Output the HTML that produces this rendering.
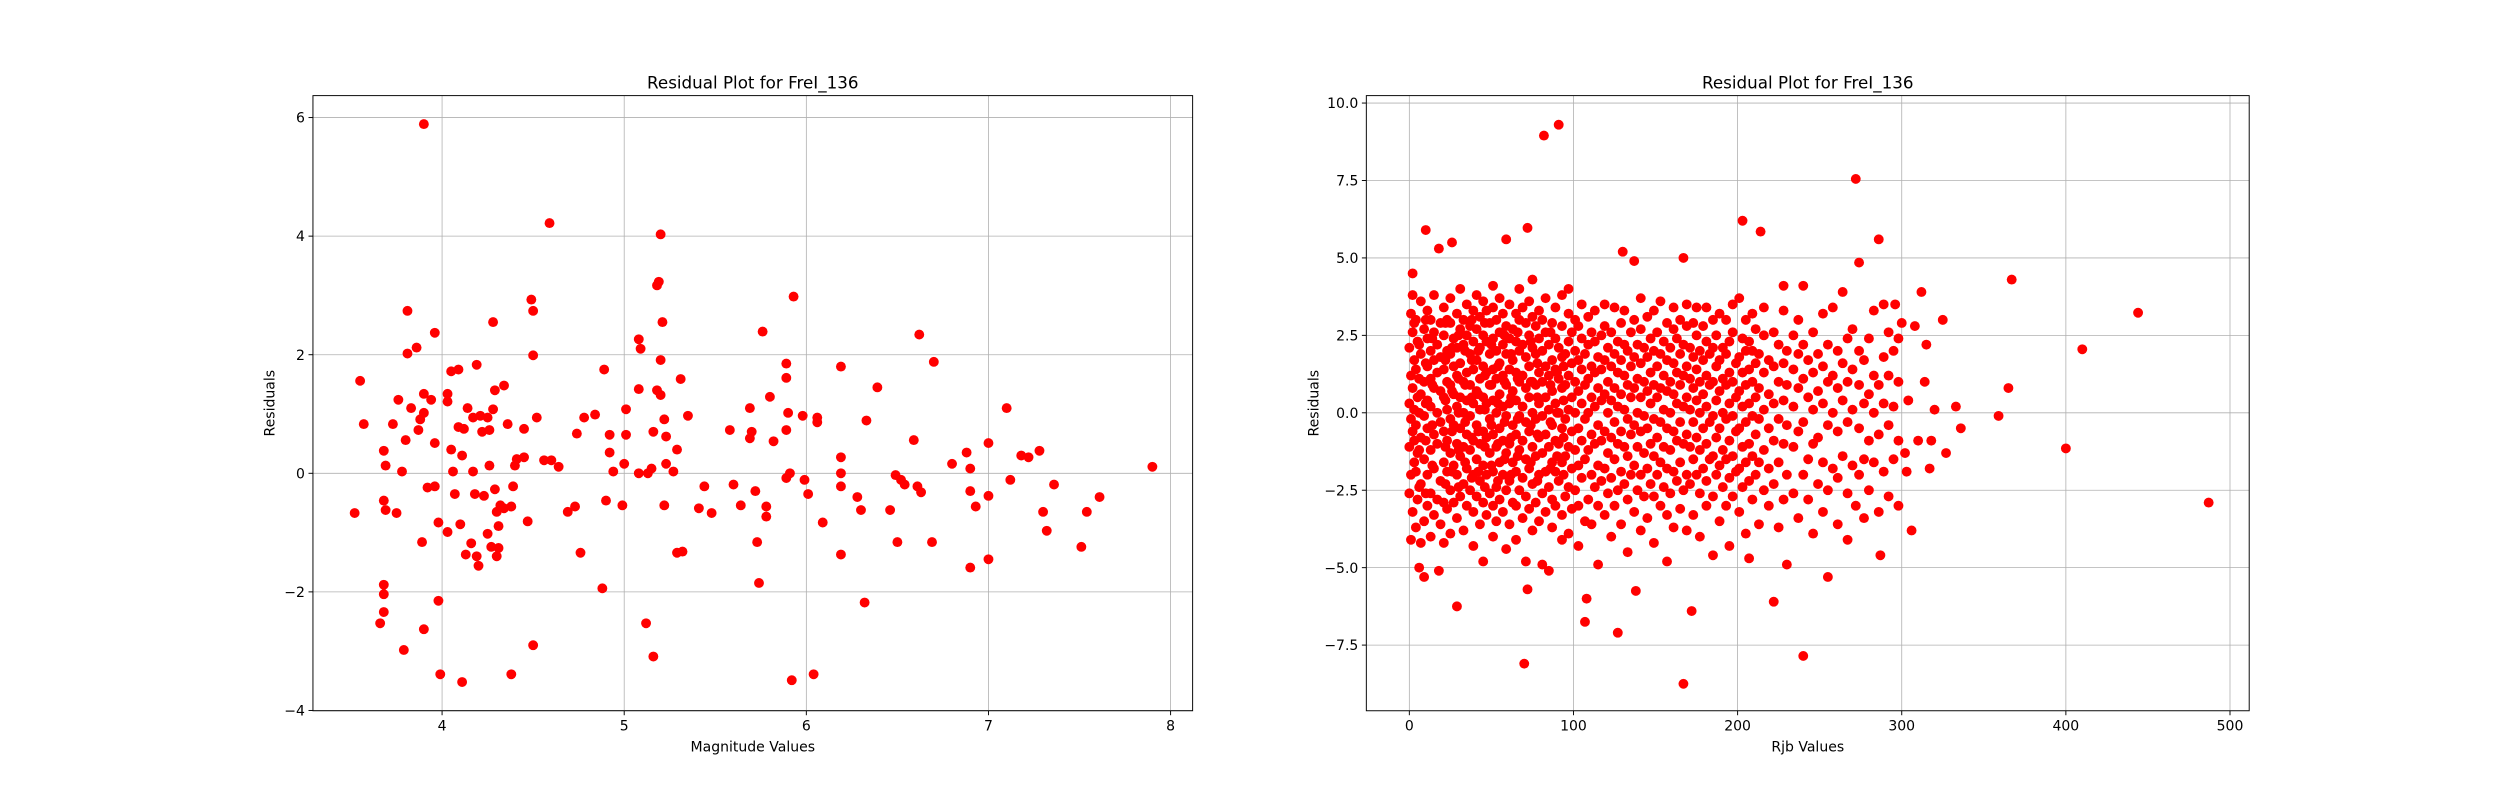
<!DOCTYPE html>
<html><head><meta charset="utf-8"><style>
html,body{margin:0;padding:0;background:#fff}
svg{display:block;font-family:"DejaVu Sans","Liberation Sans",sans-serif}
</style></head><body>
<svg id="fig" width="2500" height="800" viewBox="0 0 1568 502" xmlns="http://www.w3.org/2000/svg">
<rect width="1568" height="502" fill="#fff"/>
</svg>
<script>
const magnitudePoints = [
[3.52,-0.67],[3.55,1.56],[3.57,0.83],[3.66,-2.53],[3.68,-2.34],[3.68,0.38],[3.69,0.13],[3.68,-0.46],[3.69,-0.62],[3.68,-1.88],[3.68,-2.04],[3.73,0.83],[3.75,-0.67],[3.76,1.24],[3.78,0.03],[3.79,-2.98],[3.80,0.56],[3.81,2.02],[3.81,2.74],[3.83,1.10],[3.86,2.12],[3.87,0.73],[3.88,0.91],[3.89,-1.16],[3.90,5.89],[3.90,-2.63],[3.90,1.02],[3.90,1.34],[3.92,-0.24],[3.94,1.24],[3.96,2.37],[3.96,0.51],[3.96,-0.22],[3.98,-2.15],[3.98,-0.83],[3.99,-3.39],[4.03,1.34],[4.03,1.21],[4.03,-0.99],[4.05,0.40],[4.05,1.72],[4.09,1.75],[4.06,0.03],[4.07,-0.35],[4.09,0.78],[4.10,-0.86],[4.11,-3.52],[4.11,0.30],[4.12,0.75],[4.13,-1.37],[4.14,1.10],[4.16,-1.18],[4.17,0.03],[4.17,0.94],[4.18,-0.35],[4.19,-1.40],[4.19,1.83],[4.20,-1.56],[4.21,0.97],[4.22,0.70],[4.23,-0.38],[4.25,0.94],[4.25,-1.02],[4.26,0.13],[4.26,0.73],[4.27,-1.24],[4.28,1.08],[4.29,-0.27],[4.30,-0.65],[4.30,-1.40],[4.29,1.40],[4.28,2.55],[4.31,-1.26],[4.31,-0.89],[4.32,-0.54],[4.34,-0.59],[4.34,1.48],[4.36,0.83],[4.38,-3.39],[4.38,-0.56],[4.39,-0.22],[4.40,0.13],[4.41,0.24],[4.45,0.27],[4.45,0.75],[4.47,-0.81],[4.49,2.93],[4.50,2.74],[4.50,1.99],[4.50,-2.90],[4.52,0.94],[4.56,0.22],[4.59,4.22],[4.60,0.22],[4.64,0.11],[4.69,-0.65],[4.73,-0.56],[4.74,0.67],[4.76,-1.34],[4.78,0.94],[4.84,0.99],[4.88,-1.94],[4.89,1.75],[4.90,-0.46],[4.92,0.35],[4.92,0.65],[4.94,0.03],[4.99,-0.54],[5.00,0.16],[5.01,1.08],[5.01,0.65],[5.08,1.42],[5.08,2.26],[5.08,0.00],[5.09,2.10],[5.12,-2.53],[5.13,0.00],[5.15,0.08],[5.16,-3.09],[5.16,0.70],[5.18,1.40],[5.18,3.17],[5.19,3.23],[5.20,4.03],[5.21,2.55],[5.20,1.91],[5.20,1.32],[5.22,0.91],[5.22,-0.54],[5.23,0.16],[5.23,0.62],[5.27,0.03],[5.29,0.40],[5.29,-1.34],[5.31,1.59],[5.32,-1.32],[5.35,0.97],[5.41,-0.59],[5.44,-0.22],[5.48,-0.67],[5.58,0.73],[5.60,-0.19],[5.64,-0.54],[5.69,1.10],[5.69,0.59],[5.70,0.70],[5.72,-0.30],[5.73,-1.16],[5.74,-1.85],[5.76,2.39],[5.78,-0.56],[5.78,-0.73],[5.80,1.29],[5.82,0.54],[5.89,0.73],[5.89,1.85],[5.89,1.61],[5.90,1.02],[5.91,0.00],[5.89,-0.08],[5.92,-3.49],[5.93,2.98],[5.98,0.97],[5.99,-0.11],[6.01,-0.35],[6.04,-3.39],[6.06,0.94],[6.06,0.86],[6.09,-0.83],[6.19,1.80],[6.19,0.27],[6.19,-0.22],[6.19,-1.37],[6.19,0.00],[6.28,-0.40],[6.30,-0.62],[6.32,-2.18],[6.33,0.89],[6.39,1.45],[6.46,-0.62],[6.49,-0.03],[6.50,-1.16],[6.52,-0.11],[6.54,-0.19],[6.59,0.56],[6.62,2.34],[6.61,-0.22],[6.63,-0.32],[6.69,-1.16],[6.70,1.88],[6.80,0.16],[6.88,0.35],[6.90,-1.59],[6.90,0.08],[6.90,-0.30],[6.93,-0.56],[7.00,-0.38],[7.00,-1.45],[7.00,0.51],[7.10,1.10],[7.12,-0.11],[7.18,0.30],[7.22,0.27],[7.28,0.38],[7.30,-0.65],[7.32,-0.97],[7.36,-0.19],[7.51,-1.24],[7.54,-0.65],[7.61,-0.40],[7.90,0.11]
];
const magnitudeXTicks = [4,5,6,7,8];
const magnitudeYTicks = [-4,-2,0,2,4,6];

const rjbPoints = [
[1,-4.1],[2,-3.2],[0,-2.6],[1,-2.0],[3,-1.6],[0,-1.1],[2,-0.6],[1,-0.2],[0,0.3],[2,0.8],[1,1.2],[3,1.7],[0,2.1],[2,2.6],[1,3.2],[2,3.8],[2,4.5],[4,-3.7],[5,-2.8],[4,-1.9],[5,-1.3],[4,-0.4],[5,0.5],[4,1.4],[5,2.3],[4,3.0],[3,-0.9],[3,0.1],[3,2.9],[6,-5.0],[9,-5.3],[18,-5.1],
[7,-4.2],[7,-2.3],[7,-0.8],[7,0.6],[7,1.9],[7,3.6],[9,-3.5],[9,-1.5],[9,-0.1],[9,1.0],[9,2.7],[10,5.9],[11,-3.0],[11,-2.0],[11,-0.5],[11,0.4],[11,1.5],[11,2.4],[11,3.3],[13,-4.0],[13,-2.6],[13,-1.2],[13,0.2],[13,1.1],[13,2.0],[13,3.0],[15,-3.3],[15,-1.8],[15,-0.7],[15,0.8],[15,1.7],[15,2.6],[15,3.8],[17,-2.8],[17,-1.0],[17,0.0],[17,1.3],[17,2.2],[19,-3.6],[19,-2.2],[19,-0.3],[19,0.7],[19,1.8],[19,2.9],[18,5.3],[26,5.5],
[21,-4.2],[21,-2.9],[21,-1.6],[21,-0.6],[21,0.5],[21,1.4],[21,2.5],[21,3.4],[23,-3.1],[23,-1.9],[23,-0.9],[23,0.1],[23,1.0],[23,2.0],[23,3.0],[25,-3.9],[25,-2.5],[25,-1.3],[25,-0.2],[25,0.9],[25,1.9],[25,2.9],[25,3.7],[27,-2.9],[27,-1.7],[27,-0.4],[27,0.6],[27,1.5],[27,2.4],[29,-6.25],[29,-3.4],[29,-2.0],[29,-1.0],[29,0.2],[29,1.2],[29,2.1],[29,3.2],[31,-2.7],[31,-1.4],[31,-0.5],[31,0.5],[31,1.6],[31,2.7],[31,4.0],[33,-3.8],[33,-2.3],[33,-1.1],[33,0.0],[33,1.0],[33,2.2],[33,3.0],[35,-3.0],[35,-1.8],[35,-0.7],[35,0.4],[35,1.3],[35,2.5],[35,3.5],[37,-2.5],[37,-1.2],[37,-0.1],[37,0.9],[37,1.9],[37,2.8],[39,-4.3],[39,-3.2],[39,-2.0],[39,-0.9],[39,0.3],[39,1.4],[39,2.3],[39,3.3],
[41,-2.7],[41,-1.5],[41,-0.4],[41,0.7],[41,1.7],[41,2.7],[41,3.8],[43,-3.6],[43,-2.2],[43,-1.0],[43,0.1],[43,1.1],[43,2.1],[43,3.1],[45,-4.8],[45,-2.9],[45,-1.7],[45,-0.6],[45,0.5],[45,1.5],[45,2.5],[45,3.6],[47,-3.3],[47,-2.0],[47,-0.8],[47,0.3],[47,1.3],[47,2.3],[47,3.3],[49,-2.6],[49,-1.3],[49,-0.2],[49,0.9],[49,1.9],[49,2.9],[51,-4.0],[51,-3.0],[51,-1.9],[51,-0.7],[51,0.4],[51,1.4],[51,2.4],[51,3.4],[51,4.1],[53,-3.5],[53,-2.4],[53,-1.1],[53,0.0],[53,1.1],[53,2.0],[53,3.0],[55,-2.8],[55,-1.6],[55,-0.5],[55,0.6],[55,1.6],[55,2.6],[55,3.7],[57,-3.2],[57,-2.0],[57,-0.9],[57,0.2],[57,1.2],[57,2.2],[57,3.2],[59,-4.4],[59,-2.5],[59,-1.3],[59,-0.1],[59,0.9],[59,1.9],[59,2.8],[59,5.6],
[61,-3.6],[61,-2.2],[61,-1.0],[61,0.3],[61,1.4],[61,2.4],[61,3.5],[63,-2.9],[63,-1.6],[63,-0.4],[63,0.7],[63,1.7],[63,2.7],[65,-4.1],[65,-3.0],[65,-1.9],[65,-0.7],[65,0.4],[65,1.3],[65,2.3],[65,3.2],[67,-2.5],[67,-1.2],[67,-0.1],[67,1.0],[67,2.0],[67,3.0],[67,4.0],[69,-3.4],[69,-2.1],[69,-0.9],[69,0.2],[69,1.2],[69,2.2],[69,3.4],[70,-8.1],[71,-4.8],[71,-2.7],[71,-1.5],[71,-0.3],[71,0.8],[71,1.8],[71,2.9],[72,-5.7],[72,5.97],[73,-3.1],[73,-1.8],[73,-0.6],[73,0.5],[73,1.5],[73,2.5],[73,3.6],[75,-3.8],[75,-2.3],[75,-1.1],[75,0.0],[75,1.0],[75,2.1],[75,3.1],[75,4.3],[77,-2.9],[77,-1.4],[77,-0.2],[77,0.9],[77,1.9],[77,2.8],[79,-3.5],[79,-2.0],[79,-0.8],[79,0.3],[79,1.3],[79,2.4],[79,3.3],
[81,-4.9],[81,-2.6],[81,-1.3],[81,-0.1],[81,1.0],[81,2.0],[81,3.0],[82,8.95],[83,-3.2],[83,-1.9],[83,-0.7],[83,0.5],[83,1.5],[83,2.6],[83,3.7],[85,-5.1],[85,-2.4],[85,-1.1],[85,0.1],[85,1.2],[85,2.2],[87,-3.7],[87,-2.8],[87,-1.6],[87,-0.4],[87,0.7],[87,1.7],[87,2.9],[89,-3.0],[89,-1.9],[89,-0.9],[89,0.3],[89,1.4],[89,2.4],[89,3.4],[91,9.3],[91,-2.2],[91,-1.0],[91,0.0],[91,1.1],[91,2.1],[93,-4.1],[93,-3.3],[93,-1.6],[93,-0.5],[93,0.8],[93,1.8],[93,2.8],[93,3.8],[95,-2.7],[95,-1.4],[95,-0.2],[95,0.9],[95,1.9],[97,-3.9],[97,-2.4],[97,-1.1],[97,0.1],[97,1.2],[97,2.3],[97,3.2],[97,4.0],[99,-3.1],[99,-1.8],[99,-0.6],[99,0.5],[99,1.6],[99,2.6],
[101,-2.5],[101,-1.2],[101,0.0],[101,1.0],[101,2.0],[101,3.0],[103,-4.3],[103,-3.0],[103,-1.7],[103,-0.5],[103,0.7],[103,1.7],[103,2.8],[105,-2.1],[105,-0.9],[105,0.3],[105,1.4],[105,2.4],[105,3.5],[107,-6.75],[107,-3.5],[107,-1.5],[107,-0.2],[107,0.9],[107,1.9],[108,-6.0],[109,-2.8],[109,-1.2],[109,0.0],[109,1.1],[109,2.2],[109,3.1],[111,-3.6],[111,-2.0],[111,-0.7],[111,0.5],[111,1.5],[111,2.6],[113,-2.4],[113,-1.0],[113,0.2],[113,1.3],[113,2.3],[113,3.3],[115,-4.9],[115,-3.0],[115,-1.7],[115,-0.4],[115,0.8],[115,1.8],[117,-2.2],[117,-0.9],[117,0.4],[117,1.4],[117,2.5],[119,-3.3],[119,-1.8],[119,-0.6],[119,0.6],[119,1.7],[119,2.8],[119,3.5],
[121,-2.6],[121,-1.3],[121,0.0],[121,1.0],[121,2.1],[123,-4.0],[123,-2.1],[123,-0.8],[123,0.4],[123,1.5],[123,2.6],[125,-3.0],[125,-1.5],[125,-0.3],[125,0.8],[125,1.9],[125,3.4],[127,-7.1],[127,-2.5],[127,-1.0],[127,0.2],[127,1.3],[127,2.3],[129,-3.6],[129,-1.9],[129,-0.6],[129,0.6],[129,1.7],[129,2.9],[130,5.2],[131,-2.3],[131,-1.1],[131,0.1],[131,1.2],[131,2.2],[131,3.3],[133,-4.5],[133,-2.8],[133,-1.4],[133,-0.2],[133,0.9],[133,2.0],[135,-2.0],[135,-0.7],[135,0.5],[135,1.5],[135,2.6],[137,4.9],[137,-3.2],[137,-1.7],[137,-0.4],[137,0.8],[137,1.8],[137,3.0],[138,-5.75],[139,-2.5],[139,-1.1],[139,0.0],[139,1.1],[139,2.2],
[141,-3.8],[141,-2.0],[141,-0.6],[141,0.5],[141,1.6],[141,2.7],[141,3.7],[143,-2.7],[143,-1.3],[143,-0.1],[143,1.0],[143,2.1],[145,-3.4],[145,-1.8],[145,-0.5],[145,0.7],[145,1.8],[145,3.1],[147,-2.3],[147,-1.0],[147,0.3],[147,1.3],[147,2.4],[149,-4.2],[149,-2.7],[149,-1.4],[149,-0.2],[149,0.9],[149,2.0],[149,3.3],[151,-2.0],[151,-0.8],[151,0.5],[151,1.5],[151,2.6],[153,-3.0],[153,-1.6],[153,-0.3],[153,0.8],[153,1.9],[153,3.6],[155,-2.4],[155,-1.1],[155,0.1],[155,1.2],[155,2.3],[157,-4.8],[157,-3.3],[157,-1.8],[157,-0.5],[157,0.7],[157,1.7],[157,2.9],[159,-2.6],[159,-1.2],[159,0.0],[159,1.0],[159,2.1],
[161,-3.7],[161,-1.9],[161,-0.6],[161,0.6],[161,1.6],[161,2.7],[161,3.4],[163,-2.2],[163,-0.9],[163,0.3],[163,1.3],[163,2.4],[165,-3.1],[165,-1.6],[165,-0.3],[165,0.9],[165,1.9],[165,3.0],[167,-8.75],[167,5.0],[167,-2.5],[167,-1.0],[167,0.2],[167,1.2],[167,2.2],[169,-3.8],[169,-2.0],[169,-0.7],[169,0.5],[169,1.5],[169,2.8],[169,3.5],[171,-2.3],[171,-1.1],[171,0.1],[171,1.1],[171,2.1],[172,-6.4],[173,-3.3],[173,-1.5],[173,-0.3],[173,0.8],[173,1.8],[173,2.9],[175,-2.0],[175,-0.8],[175,0.4],[175,1.4],[175,2.5],[175,3.4],[177,-4.0],[177,-2.6],[177,-1.2],[177,0.0],[177,1.0],[177,2.0],[179,-1.8],[179,-0.5],[179,0.6],[179,1.7],[179,2.8],
[181,-3.0],[181,-2.2],[181,-1.0],[181,0.2],[181,1.2],[181,2.3],[181,3.4],[183,-1.5],[183,-0.3],[183,0.9],[183,1.9],[185,-4.6],[185,-2.7],[185,-1.4],[185,-0.1],[185,1.0],[185,2.1],[185,3.0],[187,-2.0],[187,-0.8],[187,0.4],[187,1.5],[187,2.5],[189,-3.5],[189,-1.7],[189,-0.5],[189,0.7],[189,1.7],[189,3.2],[191,-2.4],[191,-1.2],[191,0.0],[191,1.1],[191,2.1],[193,-3.0],[193,-1.5],[193,-0.2],[193,0.9],[193,1.9],[193,3.0],[195,-4.3],[195,-2.1],[195,-0.9],[195,0.3],[195,1.3],[195,2.3],[197,-2.7],[197,-1.4],[197,-0.1],[197,1.0],[197,2.6],[197,3.5],[199,-1.9],[199,-0.6],[199,0.5],[199,1.6],
[201,-3.2],[201,-1.8],[201,-0.5],[201,0.7],[201,1.8],[201,3.7],[203,6.2],[203,-2.4],[203,-1.1],[203,0.2],[203,1.3],[203,2.4],[205,-3.9],[205,-1.6],[205,-0.3],[205,0.9],[205,2.0],[205,3.0],[207,-4.7],[207,-2.2],[207,-1.0],[207,0.3],[207,1.4],[207,2.3],[209,-2.8],[209,-1.4],[209,-0.1],[209,1.0],[209,2.0],[209,3.2],[211,-2.0],[211,-0.7],[211,0.5],[211,1.6],[211,2.7],[213,-3.6],[213,-1.6],[213,-0.2],[213,0.8],[213,1.9],[214,5.85],[216,-2.5],[216,-1.2],[216,0.1],[216,1.3],[216,2.5],[216,3.4],[219,-3.0],[219,-1.8],[219,-0.5],[219,0.6],[219,1.7],[222,-6.1],[222,-2.3],[222,-0.9],[222,0.3],[222,1.5],[222,2.6],[225,-3.7],[225,-1.6],[225,-0.2],[225,1.0],[225,2.2],[228,-2.8],[228,-1.0],[228,0.4],[228,1.6],[228,3.3],[228,4.1],[230,-4.9],[230,-2.0],[230,-0.4],[230,0.9],[230,2.0],
[234,-2.6],[234,-1.1],[234,0.2],[234,1.4],[234,2.5],[237,-3.4],[237,-0.6],[237,0.8],[237,1.9],[237,3.0],[240,-7.85],[240,4.1],[240,-2.0],[240,-0.3],[240,1.1],[240,2.2],[243,-2.8],[243,-1.5],[243,0.5],[243,1.7],[246,-3.9],[246,-1.0],[246,0.1],[246,1.3],[246,2.6],[249,-2.3],[249,-0.8],[249,0.7],[249,1.9],[252,-3.2],[252,-1.6],[252,0.3],[252,1.5],[252,3.2],[255,-5.3],[255,-2.5],[255,-0.4],[255,1.0],[255,2.2],[258,-1.8],[258,0.0],[258,1.2],[258,3.4],[261,-3.6],[261,-2.1],[261,-0.6],[261,0.8],[261,2.0],[264,-1.4],[264,0.4],[264,1.6],[264,3.9],[267,-4.1],[267,-2.6],[267,-0.3],[267,1.0],[267,2.4],[270,-1.7],[270,0.1],[270,1.4],[270,2.7],[272,7.55],[272,-3.0],[274,4.85],[274,-2.0],[274,-0.5],[274,0.9],[274,2.0],[277,-3.4],[277,-1.5],[277,0.3],[277,1.7],[280,-2.5],[280,-0.9],[280,0.6],[280,2.4],[283,-1.6],[283,0.0],[283,1.2],[283,3.3],[286,5.6],[286,-3.2],[286,-0.7],[286,0.9],[287,-4.6],[289,3.5],[289,-1.9],[289,0.3],[289,1.8],[292,-2.7],[292,-0.4],[292,1.2],[292,2.6],[295,-1.5],[295,0.2],[295,2.0],[298,-3.0],[298,-0.9],[298,1.0],[298,2.4],
[302,-1.3],[304,0.4],[306,-3.8],[308,2.8],[310,-0.9],[312,3.9],[314,1.0],[317,-1.8],[318,-0.9],[320,0.1],[325,3.0],[327,-1.3],[333,0.2],[336,-0.5],[359,-0.1],[365,0.8],[367,4.3],[400,-1.15],[410,2.05],[444,3.23],[487,-2.9],[300,2.9],[296,3.5],[303,-1.9],[315,2.2],
[6,-2.4],[6,-1.2],[6,0.0],[6,1.1],[6,2.2],[10,-2.6],[10,-0.9],[10,0.3],[10,1.6],[10,3.0],[14,-1.7],[14,-0.4],[14,0.9],[14,2.4],[22,-2.3],[22,-1.1],[22,0.4],[22,1.7],[22,2.9],[26,-1.9],[26,-0.6],[26,0.7],[26,2.1],[30,-2.4],[30,-1.2],[30,0.0],[30,1.1],[30,2.5],[34,-1.6],[34,-0.3],[34,0.9],[34,2.0],[38,-2.1],[38,-0.8],[38,0.5],[38,1.7],[38,3.0],[42,-1.9],[42,-0.6],[42,0.6],[42,2.0],[46,-2.4],[46,-1.1],[46,0.1],[46,1.2],[46,2.9],[50,-1.7],[50,-0.4],[50,0.9],[50,2.2],[54,-2.2],[54,-1.0],[54,0.3],[54,1.5],[58,-1.5],[58,-0.3],[58,1.0],[58,2.5],[62,-2.0],[62,-0.8],[62,0.5],[62,1.9],[66,-1.4],[66,-0.2],[66,1.1],[66,2.6],[74,-1.6],[74,-0.4],[74,1.0],[74,2.3],[78,-2.2],[78,-0.7],[78,0.5],[78,1.6],[86,-1.8],[86,-0.3],[86,0.9],[86,2.6],[90,-1.4],[90,0.0],[90,1.3],[94,-2.0],[94,-0.8],[94,0.4],[94,1.5]
];
const rjbXTicks = [0,100,200,300,400,500];
const rjbYTicks = [-7.5,-5,-2.5,0,2.5,5,7.5,10];

const NS = 'http://www.w3.org/2000/svg';
const svg = document.getElementById('fig');
function mk(tag, attrs, parent){ const e=document.createElementNS(NS,tag); for(const k in attrs) e.setAttribute(k,attrs[k]); (parent||svg).appendChild(e); return e; }
function fmt(v, dec){ const s = v.toFixed(dec); return s.replace('-', '\u2212'); }

function panel(cfg){
  const g = mk('g', {});
  
  
  const L=cfg.box[0], T=cfg.box[1], R=cfg.box[2], B=cfg.box[3];
  const sx = v => L + (v - cfg.xmin)/(cfg.xmax - cfg.xmin)*(R-L);
  const sy = v => B - (v - cfg.ymin)/(cfg.ymax - cfg.ymin)*(B-T);
  const grid = mk('g', {stroke:'#b0b0b0','stroke-width':0.5}, g);
  
  
  cfg.xt.forEach(t=>{ mk('line',{x1:sx(t),x2:sx(t),y1:T,y2:B},grid); });
  cfg.yt.forEach(t=>{ mk('line',{x1:L,x2:R,y1:sy(t),y2:sy(t)},grid); });
  const pts = mk('g', {fill:'#ff0000'}, g);
  
  
  cfg.pts.forEach(p=>{
    const c = mk('circle',{cx:sx(p[0]).toFixed(2),cy:sy(p[1]).toFixed(2),r:3.1},pts);
    
    
  });
  const frame = mk('rect',{x:L,y:T,width:R-L,height:B-T,fill:'none',stroke:'#000','stroke-width':0.6}, g);
  
  
  const ticks = mk('g', {'font-size':8.8, fill:'#000'}, g);
  
  
  cfg.xt.forEach(t=>{
    mk('line',{x1:sx(t),x2:sx(t),y1:B,y2:B+2.8,stroke:'#000','stroke-width':0.6},ticks);
    const tx = mk('text',{x:sx(t),y:B+12.5,'text-anchor':'middle'},ticks); tx.textContent = fmt(t, cfg.xdec);
    
    
  });
  cfg.yt.forEach(t=>{
    mk('line',{x1:L-2.8,x2:L,y1:sy(t),y2:sy(t),stroke:'#000','stroke-width':0.6},ticks);
    const tx = mk('text',{x:L-5,y:sy(t)+3.2,'text-anchor':'end'},ticks); tx.textContent = fmt(t, cfg.ydec);
    
    
  });
  const title = mk('text',{x:(L+R)/2,y:T-4.5,'text-anchor':'middle','font-size':10.5}, g);
  title.textContent = cfg.title;
  
  
  const xl = mk('text',{x:(L+R)/2,y:B+25.5,'text-anchor':'middle','font-size':8.8}, g);
  xl.textContent = cfg.xlabel;
  
  
  const yx = cfg.ylx, yy=(T+B)/2;
  const yl = mk('text',{x:yx,y:yy,'text-anchor':'middle','font-size':8.8,transform:'rotate(-90 '+yx+' '+yy+')'}, g);
  yl.textContent = 'Residuals';
  
  
}

panel({name:'magnitude-plot', box:[196,60,748,446], xmin:3.291, xmax:8.121, ymin:-4.005, ymax:6.37,
  xt:magnitudeXTicks, yt:magnitudeYTicks, xdec:0, ydec:0, pts:magnitudePoints,
  title:'Residual Plot for FreI_136', xlabel:'Magnitude Values', ylx:172});
panel({name:'rjb-plot', box:[857,60,1411,446], xmin:-26.2, xmax:511.7, ymin:-9.62, ymax:10.24,
  xt:rjbXTicks, yt:rjbYTicks, xdec:0, ydec:1, pts:rjbPoints,
  title:'Residual Plot for FreI_136', xlabel:'Rjb Values', ylx:827});
</script>
</body></html>
